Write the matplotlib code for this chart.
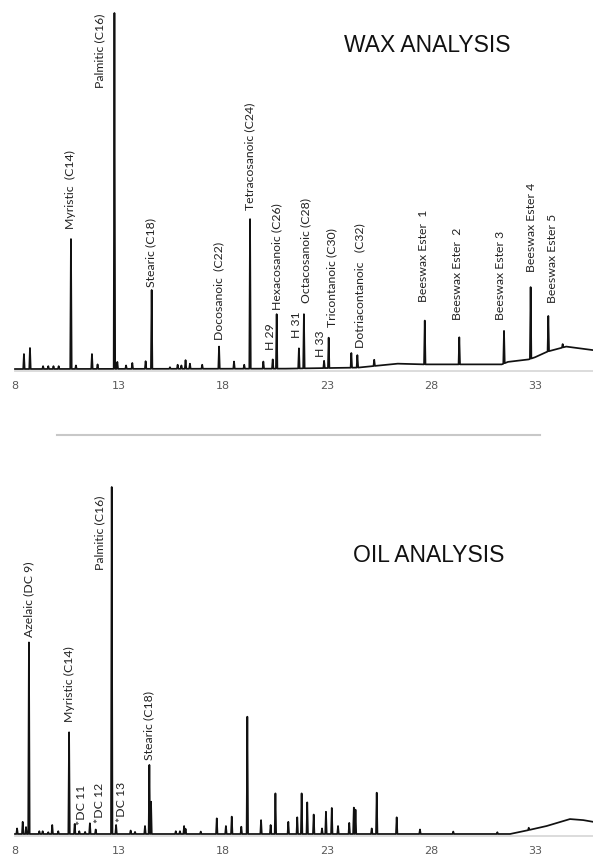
import numpy as np
import matplotlib.pyplot as plt
from matplotlib.lines import Line2D

# retention time ticks (min)
ticks = [8, 13, 18, 23, 28, 33]

# wax sample: peak retention times and apex heights (% of palmitic peak)
wax_peak_t = [8.43, 8.72, 9.35, 9.6, 9.85, 10.1, 10.69, 10.93, 11.7, 11.97,
              12.78, 12.92, 13.34, 13.64, 14.28, 14.57, 15.45, 15.82, 16.0, 16.2,
              16.41, 17.0, 17.81, 18.53, 19.02, 19.3, 19.94, 20.39, 20.58, 21.65,
              21.89, 22.86, 23.08, 24.17, 24.46, 25.27, 27.7, 29.36, 31.51, 32.79,
              33.64, 34.33]
wax_peak_h = [4.2, 5.9, 0.8, 0.8, 0.8, 0.8, 36.5, 1.0, 4.2, 1.3,
              100, 2.0, 1.0, 1.7, 2.2, 22.2, 0.5, 1.2, 1.0, 2.5,
              1.5, 1.2, 6.3, 2.1, 1.2, 42.1, 2.1, 2.7, 15.4, 5.8,
              15.4, 2.3, 8.8, 4.5, 3.9, 2.6, 13.6, 8.9, 10.7, 23.0,
              14.9, 7.0]
wax_base_t = [8.0, 21.0, 24.5, 25.7, 26.4, 27.5, 31.4, 31.7, 32.7, 33.0, 33.6, 34.5, 35.8]
wax_base_y = [0, 0.1, 0.4, 1.1, 1.5, 1.3, 1.3, 2.0, 2.7, 3.3, 4.9, 6.3, 5.3]

wax_names = ['Myristic  (C14)', 'Palmitic (C16)', 'Stearic (C18)', 'Docosanoic  (C22)',
             'Tetracosanoic (C24)', 'H 29', 'Hexacosanoic (C26)', 'H 31',
             'Octacosanoic (C28)', 'H 33', 'Tricontanoic (C30)', 'Dotriacontanoic   (C32)',
             'Beeswax Ester  1', 'Beeswax Ester  2', 'Beeswax Ester 3',
             'Beeswax Ester 4', 'Beeswax Ester 5']

# oil sample
oil_peak_t = [8.1, 8.37, 8.53, 8.67, 9.17, 9.33, 9.6, 9.79, 10.08, 10.6,
              10.87, 11.09, 11.37, 11.6, 11.88, 12.65, 12.86, 13.56, 13.77, 14.25,
              14.46, 14.54, 15.73, 15.93, 16.13, 16.2, 16.93, 17.7, 18.14, 18.42,
              18.88, 19.17, 19.83, 20.29, 20.52, 21.14, 21.57, 21.78, 22.05, 22.36,
              22.76, 22.95, 23.23, 23.53, 24.07, 24.29, 24.37, 25.15, 25.39, 26.35,
              27.47, 29.07, 31.19, 32.7]
oil_peak_h = [1.6, 3.5, 2.0, 55.2, 0.8, 0.8, 0.5, 2.6, 0.8, 29.3,
              2.9, 0.8, 0.6, 3.1, 1.3, 100, 2.6, 1.0, 0.6, 2.3,
              19.9, 9.3, 0.8, 0.8, 2.3, 1.5, 0.7, 4.5, 2.3, 5.0,
              2.1, 33.8, 4.0, 2.6, 11.7, 3.5, 4.8, 11.7, 9.1, 5.6,
              1.6, 6.4, 7.5, 2.3, 3.2, 7.6, 7.0, 1.6, 11.9, 4.8,
              1.3, 0.7, 0.5, 1.8]
oil_base_t = [8.0, 31.8, 32.6, 33.56, 34.68, 35.32, 35.8]
oil_base_y = [0, 0, 1.0, 2.3, 4.3, 4.0, 3.5]

oil_names = ['Azelaic (DC 9)', 'Myristic (C14)', '*DC 11', '*DC 12',
             'Palmitic (C16)', '*DC 13', 'Stearic (C18)']

# label anchors (time, bottom of text)
wax_lab_pos = [(10.69, 39.3), (12.09, 78.9), (14.54, 23.0), (17.81, 8.1),
               (19.30, 44.7), (20.26, 5.3), (20.6, 16.6), (21.51, 8.7),
               (21.98, 18.5), (22.70, 3.4), (23.23, 11.8), (24.59, 5.9),
               (27.63, 18.8), (29.26, 13.8), (31.35, 13.8), (32.84, 27.2),
               (33.85, 18.5)]
oil_lab_pos = [(8.64, 56.9), (10.61, 32.4), (11.21, 2.6), (12.05, 3.1),
               (12.09, 76.1), (13.13, 3.5), (14.44, 21.3)]


def trace(pt, ph, bt, by, w=0.035):
    # chromatogram outline: baseline knots plus a narrow triangle per peak
    pts = list(zip(bt, by))
    for t, h in zip(pt, ph):
        b = np.interp([t - w, t + w], bt, by)
        pts += [(t - w, b[0]), (t, h), (t + w, b[1])]
    pts.sort()
    return [p[0] for p in pts], [p[1] for p in pts]


W, H = 593, 861
fig = plt.figure(figsize=(W / 100, H / 100), dpi=100)
xmax = 8 + 578 / 20.8


def panel(top_px, bot_px, ymin, pt, ph, bt, by, names, pos):
    ax = fig.add_axes([15 / W, (H - bot_px) / H, 578 / W, (bot_px - top_px) / H])
    x, y = trace(pt, ph, bt, by)
    ax.plot(x, y, color='#111111', lw=1.25, clip_on=False)
    ax.set_xlim(8, xmax)
    ax.set_ylim(ymin, 100)
    for s in ['left', 'right', 'top']:
        ax.spines[s].set_visible(False)
    ax.spines['bottom'].set_color('#d9d9d9')
    ax.spines['bottom'].set_linewidth(1.3)
    ax.set_yticks([])
    ax.set_xticks(ticks)
    ax.tick_params(axis='x', length=0, pad=7, labelsize=8, labelcolor='#595959')
    for name, (lx, ly) in zip(names, pos):
        ax.text(lx, ly, name, rotation=90, ha='center', va='bottom',
                fontsize=8.8, color='#222222', family='Lato')
    return ax


panel(13, 371, -0.56, wax_peak_t, wax_peak_h, wax_base_t, wax_base_y, wax_names, wax_lab_pos)
panel(487, 836, -0.58, oil_peak_t, oil_peak_h, oil_base_t, oil_base_y, oil_names, oil_lab_pos)

fig.text(427.5 / W, 1 - 46 / H, 'WAX ANALYSIS', ha='center', va='center',
         fontsize=16.5, family='Liberation Sans', color='#111111')
fig.text(428.3 / W, 1 - 555 / H, 'OIL ANALYSIS', ha='center', va='center',
         fontsize=16.5, family='Liberation Sans', color='#111111')
fig.add_artist(Line2D([57 / W, 540 / W], [1 - 435 / H] * 2, color='#c8c8c8', lw=1.5))

fig.savefig('out.png', dpi=100)
